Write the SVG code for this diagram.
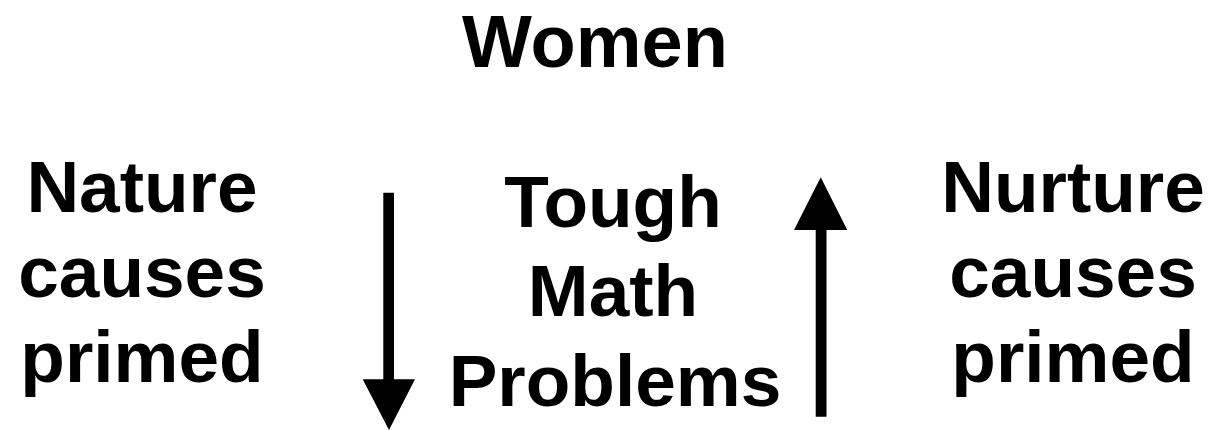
<svg xmlns="http://www.w3.org/2000/svg" width="1209" height="430" viewBox="0 0 1209 430">
<style>
.t{font-family:"Liberation Sans",Arial,sans-serif;font-weight:bold;font-size:73px;fill:#000;text-anchor:middle}
.a{fill:#000}
</style>
<rect width="1209" height="430" fill="#fff"/>
<g id="women"><text class="t" x="595" y="66.5" style="font-size:74px">Women</text></g>
<g id="nature">
<text class="t" x="142" y="211.5">Nature</text>
<text class="t" x="142" y="296.5">causes</text>
<text class="t" x="142" y="381.5">primed</text>
</g>
<g id="math">
<text class="t" x="613" y="227">Tough</text>
<text class="t" x="613" y="316">Math</text>
<text class="t" x="615" y="406">Problems</text>
</g>
<g id="nurture">
<text class="t" x="1073" y="211.5">Nurture</text>
<text class="t" x="1073" y="296.5">causes</text>
<text class="t" x="1073" y="381.5">primed</text>
</g>
<g id="connectors">
<polygon class="a" points="383.3,192.7 394,192.7 394,379.3 415,379.3 389,430 362.7,379.3 383.3,379.3"/>
<polygon class="a" points="815.7,416.7 826.5,416.7 826.5,230 847.3,230 820.7,177.3 794,230 815.7,230"/>
</g>
</svg>
